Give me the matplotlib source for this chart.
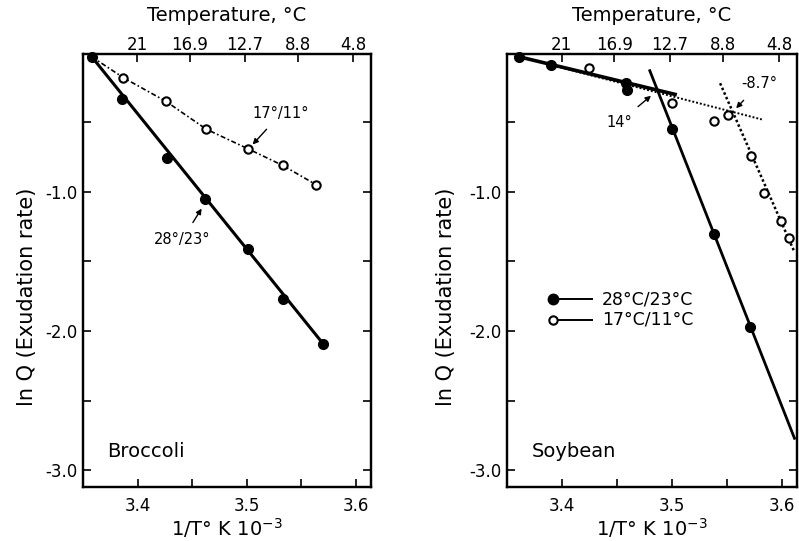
import numpy as np
import matplotlib
matplotlib.use("Agg")
import matplotlib.pyplot as plt

plt.rcParams['font.family'] = ['DejaVu Sans']

# ---------------- data ----------------
top_temps = [21, 16.9, 12.7, 8.8, 4.8]
top_labels = ["21", "16.9", "12.7", "8.8", "4.8"]
bottom_ticks = [3.4, 3.5, 3.6]
bottom_minor = [3.45, 3.55]
y_major = [-1.0, -2.0, -3.0]
y_minor = [-0.5, -1.5, -2.5]

# Broccoli
broc_warm_x = [3.358, 3.386, 3.427, 3.462, 3.501, 3.533, 3.570]
broc_warm_y = [-0.03, -0.33, -0.76, -1.05, -1.41, -1.77, -2.09]
broc_warm_fit_x = [3.358, 3.570]
broc_warm_fit_y = [-0.03, -2.09]
broc_cool_x = [3.358, 3.387, 3.426, 3.463, 3.501, 3.533, 3.564]
broc_cool_y = [-0.03, -0.18, -0.35, -0.55, -0.69, -0.81, -0.95]

# Soybean
soy_warm_x = [3.361, 3.390, 3.458, 3.459, 3.500, 3.538, 3.571]
soy_warm_y = [-0.03, -0.09, -0.22, -0.27, -0.55, -1.30, -1.97]
soy_warm_fit1_x = [3.361, 3.503]
soy_warm_fit1_y = [-0.03, -0.30]
soy_warm_fit2_x = [3.480, 3.6117]
soy_warm_fit2_y = [-0.13, -2.77]
soy_cool_x = [3.361, 3.425, 3.500, 3.538, 3.551, 3.572, 3.584, 3.599, 3.607]
soy_cool_y = [-0.03, -0.11, -0.36, -0.49, -0.45, -0.74, -1.01, -1.21, -1.33]
soy_cool_fit1_x = [3.361, 3.582]
soy_cool_fit1_y = [-0.03, -0.48]
soy_cool_fit2_x = [3.544, 3.611]
soy_cool_fit2_y = [-0.22, -1.42]

XLIM = (3.35, 3.614)
YLIM = (-3.12, -0.01)

fig = plt.figure(figsize=(7.99, 5.41), dpi=100)
axL = fig.add_axes([83/799, 54/541, 288/799, 433/541])
axR = fig.add_axes([507/799, 54/541, 290/799, 433/541])

FS_TICK = 12
FS_LAB = 14


def style_axes(ax, label_x):
    ax.set_xlim(*XLIM)
    ax.set_ylim(*YLIM)
    ax.set_xticks(bottom_ticks)
    ax.set_xticks(bottom_minor, minor=True)
    ax.set_xticklabels([f"{v:.1f}" for v in bottom_ticks])
    ax.set_yticks(y_major)
    ax.set_yticks(y_minor, minor=True)
    ax.set_yticklabels([f"{v:.1f}" for v in y_major])
    ax.tick_params(axis='both', which='both', direction='in', labelsize=FS_TICK,
                   width=1.2, left=True, right=True, bottom=True, top=False)
    ax.tick_params(axis='both', which='major', length=6)
    ax.tick_params(axis='both', which='minor', length=6)
    ax.tick_params(axis='x', which='major', pad=7)
    ax.tick_params(axis='y', which='major', pad=4)
    for s in ax.spines.values():
        s.set_linewidth(1.6)
    ax.set_xlabel("1/T° K 10$^{-3}$", fontsize=FS_LAB, labelpad=1)
    ax.set_ylabel("ln Q (Exudation rate)", fontsize=FS_LAB + 1)
    ax.yaxis.set_label_coords(label_x, 0.44)
    top = ax.twiny()
    top.set_xlim(*XLIM)
    top.set_xticks([1000.0 / (t + 273.15) for t in top_temps])
    top.set_xticklabels(top_labels)
    top.tick_params(axis='x', direction='in', length=6, width=1.2,
                    labelsize=FS_TICK, pad=0)
    top.set_xlabel("Temperature, °C", fontsize=FS_LAB, labelpad=11)
    for s in top.spines.values():
        s.set_linewidth(1.6)
    return top


style_axes(axL, -0.16)
style_axes(axR, -0.175)

# -------- Broccoli --------
axL.plot(broc_cool_x, broc_cool_y, color='black', lw=1.2,
         linestyle=(0, (3, 1.5, 1, 1.5)), zorder=2)
axL.plot(broc_cool_x[1:], broc_cool_y[1:], 'o', mfc='white', mec='black',
         mew=1.5, ms=6, zorder=3, clip_on=False)
axL.plot(broc_warm_fit_x, broc_warm_fit_y, color='black', lw=2.2, zorder=2)
axL.plot(broc_warm_x, broc_warm_y, 'o', color='black', ms=7, zorder=4,
         clip_on=False)

ANN = dict(fontsize=10.5, ha='center', va='center')
axL.annotate("17°/11°", xy=(3.5055, -0.66), xytext=(3.5312, -0.44),
             arrowprops=dict(arrowstyle='-|>', color='black', lw=1.0,
                             shrinkA=5, shrinkB=0, mutation_scale=8), **ANN)
axL.annotate("28°/23°", xy=(3.4587, -1.12), xytext=(3.4408, -1.345),
             arrowprops=dict(arrowstyle='-|>', color='black', lw=1.0,
                             shrinkA=6, shrinkB=0, mutation_scale=8), **ANN)
axL.text(0.083, 0.081, "Broccoli", transform=axL.transAxes, fontsize=FS_LAB,
         ha='left', va='center')

# -------- Soybean --------
axR.plot(soy_warm_fit1_x, soy_warm_fit1_y, color='black', lw=2.6, zorder=2)
axR.plot(soy_warm_fit2_x, soy_warm_fit2_y, color='black', lw=2.0, zorder=2,
         clip_on=True)
axR.plot(soy_cool_fit1_x, soy_cool_fit1_y, color='black', lw=1.4,
         linestyle=(0, (1, 1)), zorder=3)
axR.plot(soy_cool_fit2_x, soy_cool_fit2_y, color='black', lw=1.8,
         linestyle=(0, (1, 1)), zorder=3)
axR.plot(soy_cool_x[1:], soy_cool_y[1:], 'o', mfc='white', mec='black',
         mew=1.5, ms=6, zorder=4, clip_on=False)
axR.plot(soy_warm_x, soy_warm_y, 'o', color='black', ms=7, zorder=5,
         clip_on=False)

axR.annotate("14°", xy=(3.4811, -0.31), xytext=(3.4523, -0.50),
             arrowprops=dict(arrowstyle='-|>', color='black', lw=1.0,
                             shrinkA=6, shrinkB=0, mutation_scale=8), **ANN)
axR.annotate("-8.7°", xy=(3.5586, -0.40), xytext=(3.5793, -0.225),
             arrowprops=dict(arrowstyle='-|>', color='black', lw=1.0,
                             shrinkA=6, shrinkB=0, mutation_scale=8), **ANN)
axR.text(0.086, 0.083, "Soybean", transform=axR.transAxes, fontsize=FS_LAB,
         ha='left', va='center')

# legend (drawn manually so markers sit at the left end of the line)
leg_rows = [("28°C/23°C", 'black', 7, 0.434), ("17°C/11°C", 'white', 6, 0.386)]
for text, fc, ms, yy in leg_rows:
    axR.plot([0.159, 0.293], [yy, yy], color='black', lw=1.4,
             transform=axR.transAxes)
    axR.plot([0.159], [yy], 'o', mfc=fc, mec='black', mew=1.5, ms=ms,
             transform=axR.transAxes)
    axR.text(0.328, yy, text, transform=axR.transAxes, fontsize=12.5,
             ha='left', va='center')

fig.savefig("out.png", dpi=100)
